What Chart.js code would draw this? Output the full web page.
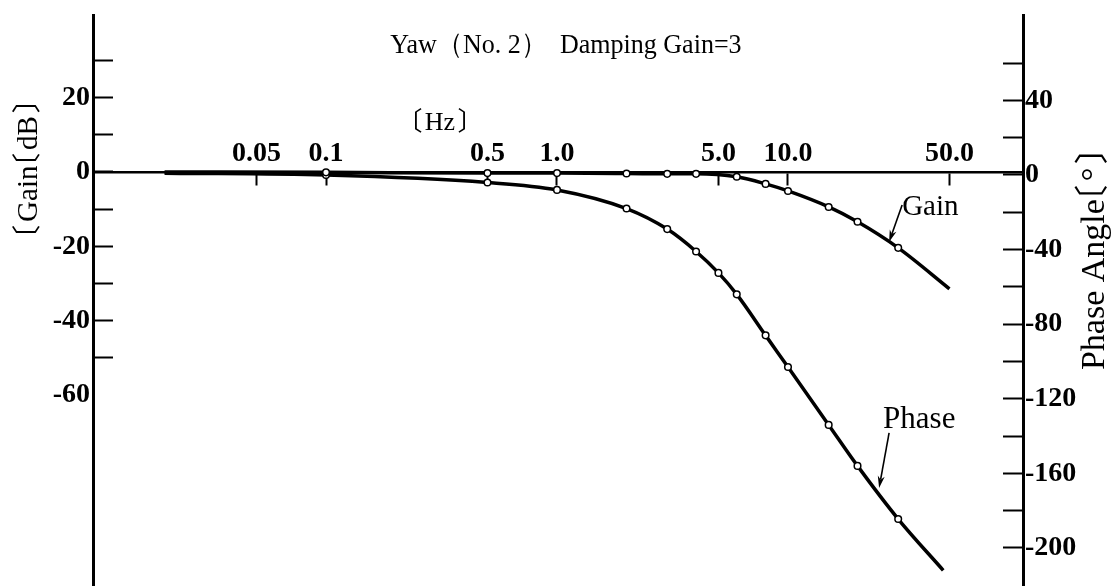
<!DOCTYPE html>
<html>
<head>
<meta charset="utf-8">
<script src="https://cdn.jsdelivr.net/npm/chart.js@4.4.1/dist/chart.umd.min.js"></script>
<style>
  html, body { margin: 0; padding: 0; background: #fff; }
  canvas { display: block; }
</style>
</head>
<body>
<canvas id="bode" width="1112" height="586"></canvas>
<script>
(function () {
  'use strict';

  // frequency response, yaw No.2, damping gain 3
  const gainFreq = [0.02, 0.1, 0.5, 1, 2, 3, 4, 6, 8, 10, 15, 20, 30, 50];
  const gainDb = [0, -0.1, -0.3, -0.3, -0.4, -0.5, -0.5, -1.3, -3.2, -5.1, -9.4, -13.4, -20.4, -31.4];
  const phaseFreq = [0.02, 0.1, 0.5, 1, 2, 3, 4, 5, 6, 8, 10, 15, 20, 30, 47];
  const phaseDeg = [1, 0, -4, -8, -18, -29, -41, -52.5, -64, -86, -103, -134, -156, -184.5, -212];

  const freqTicks = [0.05, 0.1, 0.5, 1, 5, 10, 50];
  const freqLabels = ['0.05', '0.1', '0.5', '1.0', '5.0', '10.0', '50.0'];
  const gainTicks = [30, 20, 10, 0, -10, -20, -30, -40, -50, -60];
  const gainLabels = [20, 0, -20, -40, -60];
  const phaseTicks = [60, 40, 20, 0, -20, -40, -60, -80, -100, -120, -140, -160, -180, -200];
  const phaseLabels = [40, 0, -40, -80, -120, -160, -200];

  const serif = "'Liberation Serif', 'Times New Roman', serif";
  const cjk = "'Noto Sans CJK JP', sans-serif";
  const tickFont = { family: serif, size: 28, weight: 'bold' };

  // 〔 〕 come from the CJK font as full-width glyphs; keep only their ink width
  function layoutText(ctx, text, size) {
    const runs = [];
    let buf = '';
    const flush = () => {
      if (!buf) return;
      ctx.font = size + 'px ' + serif;
      runs.push({ s: buf, font: ctx.font, dx: 0, w: ctx.measureText(buf).width });
      buf = '';
    };
    for (const ch of text) {
      if (ch === '〔' || ch === '〕') {
        flush();
        ctx.font = size + 'px ' + cjk;
        const m = ctx.measureText(ch);
        const pad = size * 0.13;
        runs.push({ s: ch, font: ctx.font, dx: m.actualBoundingBoxLeft + pad,
          w: m.actualBoundingBoxLeft + m.actualBoundingBoxRight + 2 * pad });
      } else {
        buf += ch;
      }
    }
    flush();
    return runs;
  }

  // squeeze < 1 narrows the glyphs the way the condensed type does
  function drawText(ctx, text, x, y, size, align, angle, squeeze) {
    const runs = layoutText(ctx, text, size);
    const total = runs.reduce((a, r) => a + r.w, 0);
    ctx.save();
    ctx.translate(x, y);
    let base = 0;
    if (angle) { ctx.rotate(angle); base = size * 0.33; }
    if (squeeze) ctx.scale(squeeze, 1);
    let cx = align === 'center' ? -total / 2 : 0;
    ctx.textAlign = 'left';
    ctx.textBaseline = 'alphabetic';
    ctx.fillStyle = '#000';
    runs.forEach(r => { ctx.font = r.font; ctx.fillText(r.s, cx + r.dx, base); cx += r.w; });
    ctx.restore();
  }

  function arrow(ctx, x1, y1, x2, y2) {
    const a = Math.atan2(y2 - y1, x2 - x1);
    const len = 12, w = 3.5;
    ctx.save();
    ctx.strokeStyle = '#000';
    ctx.fillStyle = '#000';
    ctx.lineWidth = 1.6;
    ctx.beginPath();
    ctx.moveTo(x1, y1);
    ctx.lineTo(x2 - Math.cos(a) * len * 0.7, y2 - Math.sin(a) * len * 0.7);
    ctx.stroke();
    ctx.beginPath();
    ctx.moveTo(x2, y2);
    ctx.lineTo(x2 - len * Math.cos(a) + w * Math.sin(a), y2 - len * Math.sin(a) - w * Math.cos(a));
    ctx.lineTo(x2 - len * Math.cos(a) * 0.7, y2 - len * Math.sin(a) * 0.7);
    ctx.lineTo(x2 - len * Math.cos(a) - w * Math.sin(a), y2 - len * Math.sin(a) + w * Math.cos(a));
    ctx.closePath();
    ctx.fill();
    ctx.restore();
  }

  // curve callouts, placed in data units of their own axis
  const callouts = [
    { text: 'Gain', axis: 'y', size: 29, at: [31.2, -11.6], from: [31.2, -8.9], to: [27.4, -18.8] },
    { text: 'Phase', axis: 'y1', size: 31, at: [25.8, -135.7], from: [27.4, -138.3], to: [24.8, -167.8] },
  ];

  const decorations = {
    id: 'decorations',
    afterDraw(chart) {
      const { ctx, scales } = chart;
      drawText(ctx, 'Yaw（No. 2）  Damping Gain=3', 566, 53, 28, 'center', 0, 0.93);
      drawText(ctx, '〔Hz〕', 411, 130, 26, 'left');
      drawText(ctx, '〔Gain〔dB〕', 27, 169, 29, 'center', -Math.PI / 2);
      drawText(ctx, 'Phase Angle〔°〕', 1093, 260, 34, 'center', -Math.PI / 2);
      callouts.forEach(c => {
        const ys = scales[c.axis];
        drawText(ctx, c.text, scales.x.getPixelForValue(c.at[0]), ys.getPixelForValue(c.at[1]), c.size, 'left');
        arrow(ctx,
          scales.x.getPixelForValue(c.from[0]), ys.getPixelForValue(c.from[1]),
          scales.x.getPixelForValue(c.to[0]), ys.getPixelForValue(c.to[1]));
      });
    }
  };

  const marker = c => (c.dataIndex === 0 || c.dataIndex === c.dataset.data.length - 1) ? 0 : 3.3;
  const curve = {
    borderColor: '#000',
    borderWidth: 3.5,
    cubicInterpolationMode: 'monotone',
    pointRadius: marker,
    pointBackgroundColor: '#fff',
    pointBorderColor: '#000',
    pointBorderWidth: 1.5,
    fill: false,
  };

  const zeroPad = s => { s.paddingTop = 0; s.paddingBottom = 0; s.paddingLeft = 0; s.paddingRight = 0; };

  new Chart(document.getElementById('bode'), {
    type: 'line',
    data: {
      datasets: [
        Object.assign({ label: 'Gain', yAxisID: 'y', data: gainFreq.map((f, i) => ({ x: f, y: gainDb[i] })) }, curve),
        Object.assign({ label: 'Phase', yAxisID: 'y1', data: phaseFreq.map((f, i) => ({ x: f, y: phaseDeg[i] })) }, curve),
      ],
    },
    options: {
      responsive: false,
      animation: false,
      events: [],
      layout: { padding: { top: 15, bottom: 0, left: 0, right: 0 } },
      plugins: { legend: { display: false }, tooltip: { enabled: false } },
      scales: {
        x: {
          type: 'logarithmic',
          position: { y: 0 },
          min: 0.0098,
          max: 104.1,
          afterBuildTicks: s => { s.ticks = freqTicks.map(v => ({ value: v })); },
          afterFit: zeroPad,
          ticks: {
            callback: v => freqLabels[freqTicks.indexOf(v)],
            font: tickFont,
            color: '#000',
            padding: -47,
            autoSkip: false,
            maxRotation: 0,
          },
          grid: { drawOnChartArea: false, tickLength: 12, tickWidth: 2, tickColor: '#000' },
          border: { color: '#000', width: 2.5 },
        },
        y: {
          position: 'left',
          min: -111.3,
          max: 42.2,
          afterBuildTicks: s => { s.ticks = gainTicks.map(v => ({ value: v })); },
          afterFit: s => { s.width = 93; zeroPad(s); },
          ticks: {
            callback: v => gainLabels.includes(v) ? String(v) : '',
            font: tickFont,
            color: '#000',
            padding: 23,
          },
          grid: {
            drawOnChartArea: false,
            tickLength: -20,
            tickWidth: 2,
            tickColor: c => (c.tick && c.tick.value >= -50) ? '#000' : 'rgba(0,0,0,0)',
          },
          border: { color: '#000', width: 3 },
        },
        y1: {
          position: 'right',
          min: -220.4,
          max: 85.8,
          afterBuildTicks: s => { s.ticks = phaseTicks.map(v => ({ value: v })); },
          afterFit: s => { s.width = 89; zeroPad(s); },
          ticks: {
            callback: v => phaseLabels.includes(v) ? String(v) : '',
            font: tickFont,
            color: '#000',
            padding: 22,
          },
          grid: { drawOnChartArea: false, tickLength: -20, tickWidth: 2, tickColor: '#000' },
          border: { color: '#000', width: 3 },
        },
      },
    },
    plugins: [decorations],
  });
})();
</script>
</body>
</html>
